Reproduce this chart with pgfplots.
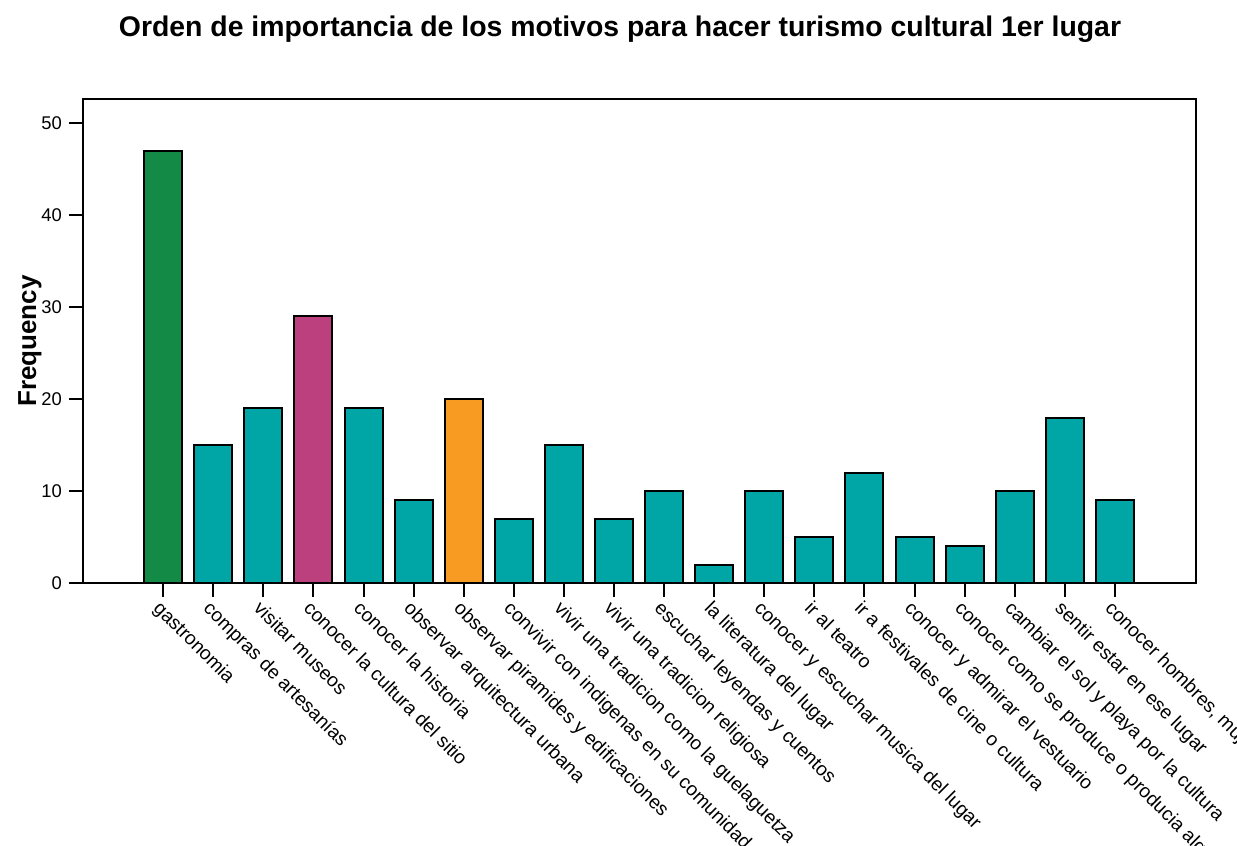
\documentclass[border=0pt]{standalone}
\usepackage{fontspec}
\setmainfont{Liberation Sans}
\usepackage{pgfplots}
\pgfplotsset{compat=1.18}
\definecolor{gverde}{RGB}{19,139,70}
\definecolor{gteal}{RGB}{0,166,166}
\definecolor{gmag}{RGB}{188,64,125}
\definecolor{gnar}{RGB}{248,155,35}
\begin{document}
\begin{tikzpicture}
\begin{axis}[scale only axis,width=556.5pt,height=242pt,
  xmin=-1.6,xmax=20.62,ymin=0,ymax=52.66,
  axis line style={line width=1pt},
  every tick/.style={black,line width=1pt},
  major tick length=7pt,tick align=outside,
  xtick={0,...,19},ytick={0,10,...,50},
  xtick pos=bottom,ytick pos=left,
  /pgf/number format/assume math mode=true,
  yticklabel style={font=\fontsize{9.2}{10}\selectfont},
  xticklabel style={font=\fontsize{9.6}{11}\selectfont,rotate=-45,anchor=north west,inner sep=1pt,xshift=-0.5pt},
  xticklabels={gastronomia,compras de artesanías,visitar museos,conocer la cultura del sitio,conocer la historia,observar arquitectura urbana,observar piramides y edificaciones,convivir con indigenas en su comunidad,vivir una tradicion como la guelaguetza,vivir una tradicion religiosa,escuchar leyendas y cuentos,la literatura del lugar,conocer y escuchar musica del lugar,ir al teatro,ir a festivales de cine o cultura,conocer y admirar el vestuario,conocer como se produce o producia algo,cambiar el sol y playa por la cultura,sentir estar en ese lugar,{conocer hombres, mujeres}},
  every axis plot/.append style={ybar,bar width=19pt,bar shift=0pt,draw=black,line width=1pt}]
\coordinate (o) at (rel axis cs:0,0);
\addplot[fill=gverde] coordinates {(0,47)};
\addplot[fill=gmag] coordinates {(3,29)};
\addplot[fill=gnar] coordinates {(6,20)};
\addplot[fill=gteal] coordinates {(1,15) (2,19) (4,19) (5,9) (7,7) (8,15) (9,7) (10,10) (11,2) (12,10) (13,5) (14,12) (15,5) (16,4) (17,10) (18,18) (19,9)};
\end{axis}
\node[font=\bfseries\fontsize{14.2}{16}\selectfont] at ([shift={(268.5pt,277pt)}]o) {Orden de importancia de los motivos para hacer turismo cultural 1er lugar};
\node[rotate=90,font=\bfseries\fontsize{13}{15}\selectfont] at ([shift={(-26.5pt,121pt)}]o) {Frequency};
\pgfresetboundingbox
\path ([shift={(-41.5pt,-131.5pt)}]o) rectangle ++(618.5pt,423pt);
\end{tikzpicture}
\end{document}
